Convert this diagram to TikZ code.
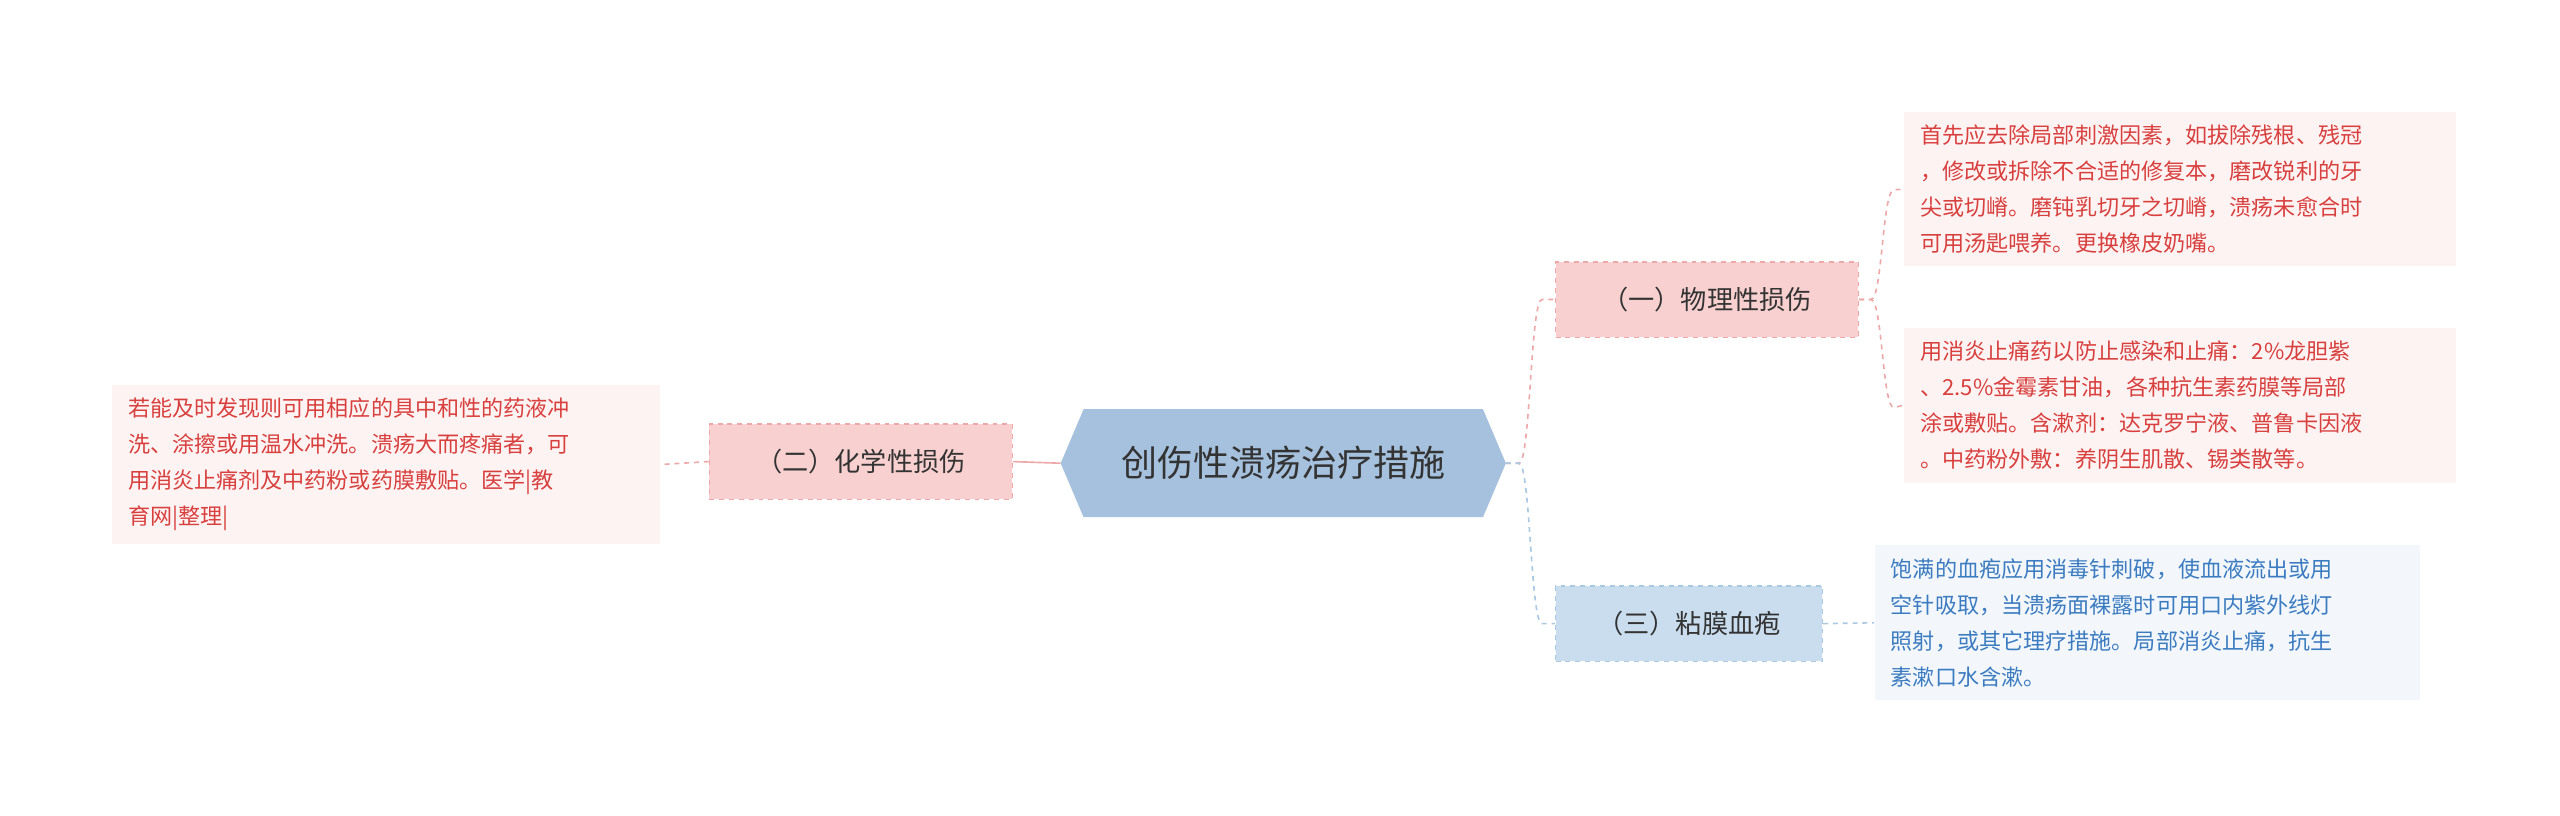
\documentclass[tikz,border=0pt]{standalone}
\usepackage{fontspec}
\setmainfont{Noto Sans CJK SC}
\usetikzlibrary{shapes.geometric}
\definecolor{pinkf}{HTML}{F8D0D0}
\definecolor{pinkd}{HTML}{EDA9A9}
\definecolor{leafr}{HTML}{FDF3F3}
\definecolor{redt}{HTML}{D8403E}
\definecolor{bluef}{HTML}{CADDEE}
\definecolor{blued}{HTML}{A9C8E2}
\definecolor{leafb}{HTML}{F3F7FC}
\definecolor{bluet}{HTML}{3B7CC0}
\definecolor{hexf}{HTML}{A5C1DD}
\tikzset{x=1pt,y=-1pt,
 sub/.style={draw=#1,dashed,line width=0.8pt,minimum height=46pt,font=\fontsize{16}{18}\selectfont,text=black!80,anchor=west,inner xsep=12pt},
 leaf/.style={fill=#1,inner xsep=10pt,inner ysep=8pt,align=left,font=\fontsize{13.5}{22}\selectfont,anchor=north west},
 conr/.style={draw=pinkd,dashed,line width=1pt},
 conb/.style={draw=blued,dashed,line width=1pt}}
\begin{document}
\begin{tikzpicture}
\useasboundingbox (0,0) rectangle (1564,498);
\node[regular polygon,regular polygon sides=6,minimum size=10pt,draw=none] at (-100,-100) {};
\fill[hexf] (648,283)--(662,250)--(906,250)--(920,283)--(906,316)--(662,316)--cycle;
\node (c) at (784,283) {\fontsize{22}{24}\selectfont\color{black!80}创伤性溃疡治疗措施};
\coordinate (cl) at (648,283); \coordinate (cr) at (920,283);
\node[sub=pinkd,fill=pinkf,minimum width=185pt] (b2) at (433,282) {（二）化学性损伤};
\node[sub=pinkd,fill=pinkf,minimum width=185pt] (b1) at (950,183) {（一）物理性损伤};
\node[sub=blued,fill=bluef,minimum width=163pt] (b3) at (950,381) {（三）粘膜血疱};
\node[leaf=leafr,text=redt,text width=315pt] (l0) at (68,235) {若能及时发现则可用相应的具中和性的药液冲\\洗、涂擦或用温水冲洗。溃疡大而疼痛者，可\\用消炎止痛剂及中药粉或药膜敷贴。医学|教\\育网|整理|};
\node[leaf=leafr,text=redt,text width=317pt] (l1) at (1163,68) {首先应去除局部刺激因素，如拔除残根、残冠\\，修改或拆除不合适的修复本，磨改锐利的牙\\尖或切嵴。磨钝乳切牙之切嵴，溃疡未愈合时\\可用汤匙喂养。更换橡皮奶嘴。};
\node[leaf=leafr,text=redt,text width=317pt] (l2) at (1163,200) {用消炎止痛药以防止感染和止痛：2\%龙胆紫\\、2.5\%金霉素甘油，各种抗生素药膜等局部\\涂或敷贴。含漱剂：达克罗宁液、普鲁卡因液\\。中药粉外敷：养阴生肌散、锡类散等。};
\node[leaf=leafb,text=bluet,text width=313pt] (l3) at (1145,333) {饱满的血疱应用消毒针刺破，使血液流出或用\\空针吸取，当溃疡面裸露时可用口内紫外线灯\\照射，或其它理疗措施。局部消炎止痛，抗生\\素漱口水含漱。};
\draw[draw=pinkd,line width=1pt] (cl) -- (b2.east);
\draw[conr] (b2.west) -- (l0.east);
\draw[conr] (cr) -- (928,283) .. controls (935,283) and (935,183) .. (942,183) -- (b1.west);
\draw[conb] (cr) -- (928,283) .. controls (935,283) and (935,381) .. (942,381) -- (b3.west);
\draw[conr] (b1.east) -- (1143,183) .. controls (1150,183) and (1150,116) .. (1157,116) -- (l1.west);
\draw[conr] (b1.east) -- (1143,183) .. controls (1150,183) and (1150,249) .. (1157,249) -- (l2.west);
\draw[conb] (b3.east) -- (l3.west);
\end{tikzpicture}
\end{document}
